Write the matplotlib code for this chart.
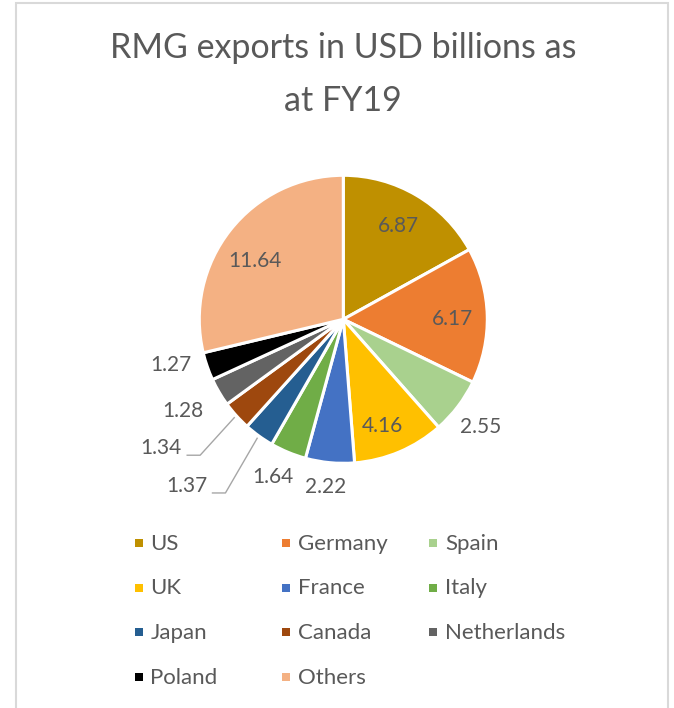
import matplotlib
matplotlib.use('Agg')
import matplotlib.pyplot as plt
import numpy as np
from matplotlib.patches import Rectangle

plt.rcParams['font.family'] = ['Lato', 'DejaVu Sans']

# RMG exports by destination, USD billions
countries = ['US', 'Germany', 'Spain', 'UK', 'France', 'Italy',
             'Japan', 'Canada', 'Netherlands', 'Poland', 'Others']
exports = [6.87, 6.17, 2.55, 4.16, 2.22, 1.64, 1.37, 1.34, 1.28, 1.27, 11.64]
colors = ['#BF9000', '#ED7D31', '#A9D18E', '#FFC000', '#4472C4', '#70AD47',
          '#255E91', '#9E480E', '#636363', '#000000', '#F4B183']

# where each value label sits: distance from centre (in radii) and a small
# clockwise nudge away from the slice middle, in degrees
label_dist = [0.75, 0.76, 1.21, 0.79, 1.17, 1.20, 1.59, 1.55, 1.28, 1.24, 0.735]
label_nudge = [0, 1.5, 1, 3, 0.5, 1.5, 7.3, 6.7, 0.7, 4.2, -4.7]
leader = ['Japan', 'Canada']

txt = '#595959'
W, H = 674, 708
R = 144  # pie radius in pixels
cx, cy = 343.3, 319.3

fig = plt.figure(figsize=(W / 100, H / 100), dpi=100)
fig.patch.set_facecolor('white')

# chart frame
fig.add_artist(Rectangle((15.5 / W, -0.05), (668 - 15.5) / W, 1.05 - 3 / H,
                         transform=fig.transFigure, fill=False,
                         edgecolor='#D9D9D9', lw=1.5))

# title, two lines
fig.text(cx / W, 1 - 58.5 / H, 'RMG exports in USD billions as', ha='center',
         va='baseline', fontsize=24.5, color=txt)
fig.text(cx / W, 1 - 111 / H, 'at FY19', ha='center', va='baseline',
         fontsize=24.5, color=txt)

# pie axes, 2 radii each way from the centre
half = 2 * R
ax = fig.add_axes([(cx - half) / W, (H - cy - half) / H, 2 * half / W, 2 * half / H])
wedges, _ = ax.pie(exports, colors=colors, startangle=90, counterclock=False,
                   radius=1, wedgeprops=dict(edgecolor='white', linewidth=2.2))
ax.set_xlim(-2, 2)
ax.set_ylim(-2, 2)
ax.set_aspect('equal')
ax.axis('off')

for w, name, val, d, nudge in zip(wedges, countries, exports, label_dist, label_nudge):
    mid = np.deg2rad((w.theta1 + w.theta2) / 2 - nudge)
    lx, ly = d * np.cos(mid), d * np.sin(mid)
    ax.text(lx, ly, f'{val:.2f}', ha='center', va='center', fontsize=15, color=txt)
    if name in leader:
        m0 = np.deg2rad((w.theta1 + w.theta2) / 2)
        ax.plot([1.02 * np.cos(m0), lx + 0.27, lx + 0.18],
                [1.02 * np.sin(m0), ly - 0.047, ly - 0.047],
                color='#A6A6A6', lw=1)

# legend laid out row by row, three columns
lg = fig.add_axes([0, 0, 1, 1])
lg.set_xlim(0, W)
lg.set_ylim(H, 0)
lg.axis('off')
col_x = [138.5, 285.7, 433.3]
row_y = [542.7, 587.5, 632.2, 677.0]
for i, (name, c) in enumerate(zip(countries, colors)):
    x, y = col_x[i % 3], row_y[i // 3]
    lg.scatter([x], [y], marker='s', s=34, color=c, linewidths=0)
    lg.text(x + 12, y + 7, name, ha='left', va='baseline', fontsize=16, color=txt)

fig.savefig('out.png', dpi=100)
